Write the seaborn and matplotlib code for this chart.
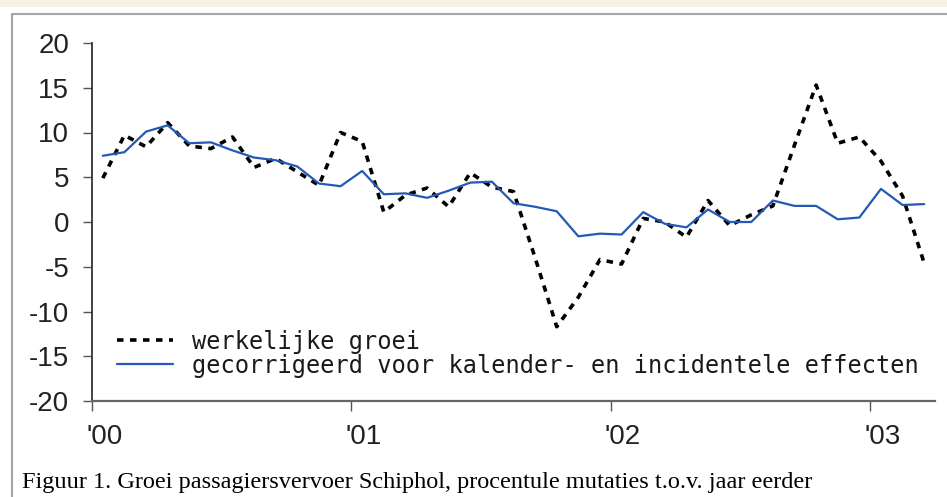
import numpy as np
import pandas as pd
import matplotlib
matplotlib.use("Agg")
import matplotlib.pyplot as plt
import matplotlib.transforms as mtransforms
from matplotlib.lines import Line2D
from matplotlib.patches import Rectangle
import seaborn as sns

# maanden jan 2000 t/m mrt 2003
maanden = pd.period_range("2000-01", "2003-03", freq="M")

# groei passagiersvervoer, % t.o.v. jaar eerder
werkelijk = [4.9, 9.7, 8.4, 11.1, 8.5, 8.2, 9.5, 6.1, 7.1, 5.6,
             4.1, 10.0, 9.0, 1.1, 3.0, 3.8, 1.7, 5.5, 3.9, 3.4,
             -4.0, -11.7, -8.4, -4.2, -4.7, 0.4, 0.0, -1.7, 2.4, -0.4,
             0.8, 1.8, 8.6, 15.3, 8.8, 9.5, 6.8, 2.9, -4.6]
gecorrigeerd = [7.4, 7.8, 10.1, 10.8, 8.8, 8.9, 8.0, 7.2, 6.9, 6.2,
                4.3, 4.0, 5.7, 3.1, 3.2, 2.7, 3.5, 4.4, 4.5, 2.1,
                1.7, 1.2, -1.6, -1.3, -1.4, 1.1, -0.2, -0.6, 1.4, 0.0,
                0.0, 2.4, 1.8, 1.8, 0.3, 0.5, 3.7, 1.9, 2.0]

labels = ["werkelijke groei", "gecorrigeerd voor kalender- en incidentele effecten"]
jaar_labels = ["'00", "'01", "'02", "'03"]
y_ticks = [20, 15, 10, 5, 0, -5, -10, -15, -20]
caption = "Figuur 1. Groei passagiersvervoer Schiphol, procentule mutaties t.o.v. jaar eerder"

sns.set_style("ticks")
plt.rcParams["font.family"] = ["Liberation Sans", "DejaVu Sans"]
plt.rcParams["axes.unicode_minus"] = False

# x = midden van de maand
df = pd.DataFrame({"t": np.arange(len(maanden)) + 0.5,
                   "werkelijk": werkelijk,
                   "gecorrigeerd": gecorrigeerd})

fig = plt.figure(figsize=(9.47, 4.97), dpi=100)
fig.patch.set_facecolor("white")

# achtergrond / kader van de webpagina
fig.add_artist(Rectangle((0, 1 - 7 / 497), 1, 7 / 497, transform=fig.transFigure,
                         facecolor="#f5f1e3", edgecolor="none"))
fig.add_artist(Line2D([12 / 947, 1], [1 - 14 / 497, 1 - 14 / 497], transform=fig.transFigure,
                      color="#a5a5a5", lw=1.5))
fig.add_artist(Line2D([12 / 947, 12 / 947], [0, 1 - 14 / 497], transform=fig.transFigure,
                      color="#a5a5a5", lw=1.5))

ax = fig.add_axes([92 / 947, 96 / 497, 843 / 947, 358 / 497])
sns.lineplot(data=df, x="t", y="werkelijk", ax=ax, color="black", lw=2.6,
             ls=(0, (1.8, 1.8)), label=labels[0])
sns.lineplot(data=df, x="t", y="gecorrigeerd", ax=ax, color="#2459b5", lw=1.6,
             label=labels[1])

ax.set_xlim(0, len(maanden))
ax.set_ylim(-20, 20)
jan = [i for i, p in enumerate(maanden) if p.month == 1]
ax.set_xticks(jan, jaar_labels)
ax.set_yticks(y_ticks)
ax.set_xlabel("")
ax.set_ylabel("")

for s in ["top", "right"]:
    ax.spines[s].set_visible(False)
ax.spines["left"].set_color("#333333")
ax.spines["left"].set_linewidth(1.3)
ax.spines["bottom"].set_color("#666666")
ax.spines["bottom"].set_linewidth(1.6)

ax.tick_params(axis="y", length=6.5, width=1, color="#555555", pad=10,
               labelsize=20, labelcolor="#222222")
ax.tick_params(axis="x", length=7.5, width=1, color="#555555", pad=9,
               labelsize=20, labelcolor="#222222")
shift = mtransforms.ScaledTranslation(-6 / 100, 0, fig.dpi_scale_trans)
for lbl in ax.get_xticklabels():
    lbl.set_horizontalalignment("left")
    lbl.set_transform(lbl.get_transform() + shift)

leg = ax.legend(loc="lower left", bbox_to_anchor=(0.0297, 0.065), frameon=False,
                prop={"family": "DejaVu Sans Mono", "size": 17},
                handlelength=2.37, handletextpad=0.8, labelspacing=0.0,
                borderpad=0, borderaxespad=0)
for t in leg.get_texts():
    t.set_color("#1a1a1a")

fig.text(22 / 947, 1 - 488 / 497, caption, family="Liberation Serif", size=17.5,
         va="baseline", ha="left", color="black")

fig.savefig("out.png", dpi=100, facecolor=fig.get_facecolor())
